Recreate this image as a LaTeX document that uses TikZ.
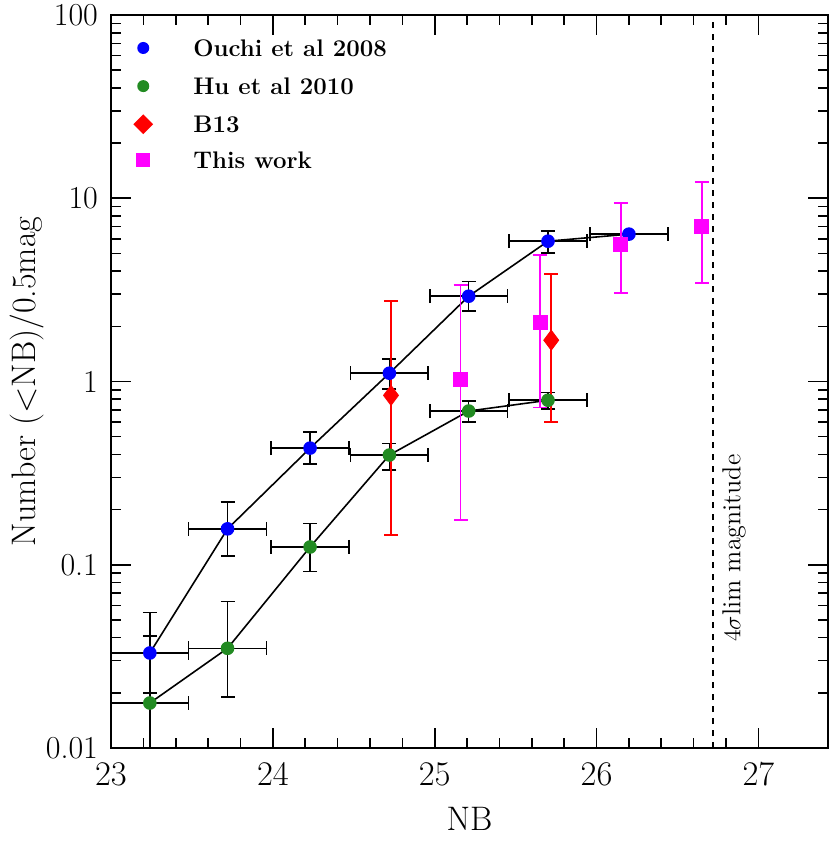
\documentclass[tikz,border=0pt]{standalone}
\usepackage{pgfplots}
\pgfplotsset{compat=1.18}
\usetikzlibrary{positioning,shapes.geometric}
\definecolor{hugreen}{RGB}{34,139,34}
\definecolor{workpink}{RGB}{255,0,255}
\definecolor{bred}{RGB}{255,0,0}
\definecolor{oblue}{RGB}{0,0,255}
\tikzset{
  ouchimark/.style={mark=*,mark size=3pt,mark options={oblue}},
  humark/.style={mark=*,mark size=3pt,mark options={hugreen}},
  bmark/.style={mark=diamond*,mark size=5pt,bred},
  workmark/.style={mark=square*,mark size=3.5pt,workpink},
  legtext/.style={anchor=west,font=\bfseries\fontsize{12}{14}\selectfont},
}
\begin{document}
\begin{tikzpicture}
\useasboundingbox (0,0) rectangle (415pt,420.5pt);
\begin{axis}[at={(55.5pt,46.5pt)}, anchor=south west, scale only axis,
  width=358.5pt, height=366.5pt, ymode=log,
  xmin=23, xmax=27.43, ymin=0.01, ymax=100,
  xtick={23,24,25,26,27}, minor x tick num=4,
  ytick={0.01,0.1,1,10,100}, yticklabels={0.01,0.1,1,10,100},
  tick align=inside, axis line style={line width=1pt},
  major tick length=10pt, minor tick length=5pt,
  every tick/.style={black,line width=0.8pt},
  ticklabel style={font=\fontsize{16}{18}\selectfont},
  xticklabel style={yshift=-4pt}, yticklabel style={xshift=-3pt},
  label style={font=\fontsize{17}{19}\selectfont},
  xlabel={NB}, ylabel={Number ($<$NB)/0.5mag},
  xlabel style={yshift=-4pt}, ylabel style={yshift=-6pt},
  error bars/error bar style={line width=0.8pt,black},
  error bars/error mark options={rotate=90,mark size=3.5pt,line width=0.8pt}]
% Ouchi et al 2008
\addplot[black,line width=0.8pt,ouchimark,
  error bars/.cd, x dir=both, x explicit, y dir=both, y explicit]
  coordinates {(23.24,0.033) += (0.24,0.022) -= (0.24,0.013)
    (23.72,0.157) += (0.24,0.063) -= (0.24,0.045)
    (24.23,0.433) += (0.24,0.097) -= (0.24,0.078)
    (24.72,1.11) += (0.24,0.22) -= (0.24,0.2)
    (25.21,2.92) += (0.24,0.6) -= (0.24,0.5)
    (25.70,5.83) += (0.24,0.8) -= (0.24,0.8)
    (26.20,6.37) += (0.24,0) -= (0.24,0)};
% Hu et al 2010
\addplot[black,line width=0.8pt,humark,
  error bars/.cd, x dir=both, x explicit, y dir=both, y explicit]
  coordinates {(23.24,0.0176) += (0.24,0.0234) -= (0.24,0.0126)
    (23.72,0.035) += (0.24,0.028) -= (0.24,0.016)
    (24.23,0.125) += (0.24,0.043) -= (0.24,0.033)
    (24.72,0.397) += (0.24,0.063) -= (0.24,0.067)
    (25.21,0.69) += (0.24,0.09) -= (0.24,0.09)
    (25.70,0.79) += (0.24,0.08) -= (0.24,0.08)};
% B13
\addplot[only marks,bmark,
  error bars/.cd, y dir=both, y explicit,
  error bar style={bred,line width=0.8pt}]
  coordinates {(24.73,0.84) += (0,1.91) -= (0,0.695)
    (25.72,1.68) += (0,2.17) -= (0,1.08)};
% This work
\addplot[only marks,workmark,
  error bars/.cd, y dir=both, y explicit,
  error bar style={workpink,line width=0.8pt}]
  coordinates {(25.16,1.03) += (0,2.32) -= (0,0.855)
    (25.65,2.1) += (0,2.8) -= (0,1.38)
    (26.15,5.6) += (0,3.8) -= (0,2.55)
    (26.65,7.0) += (0,5.3) -= (0,3.55)};
\draw[dashed,line width=0.8pt] (axis cs:26.72,0.01) -- (axis cs:26.72,100);
\node[rotate=90,font=\fontsize{13}{15}\selectfont] (limlabel) at (axis cs:26.85,0.123) {$4\sigma$lim magnitude};
% legend
\node[circle,fill=oblue,inner sep=0pt,minimum size=6pt] (leg1) at (rel axis cs:0.045,0.955) {};
\node[circle,fill=hugreen,inner sep=0pt,minimum size=6pt] (leg2) at (rel axis cs:0.045,0.903) {};
\node[diamond,fill=bred,inner sep=0pt,minimum size=10pt] (leg3) at (rel axis cs:0.045,0.851) {};
\node[rectangle,fill=workpink,inner sep=0pt,minimum size=7pt] (leg4) at (rel axis cs:0.045,0.802) {};
\node[legtext] at (rel axis cs:0.105,0.955) {Ouchi et al 2008};
\node[legtext] at (rel axis cs:0.105,0.903) {Hu et al 2010};
\node[legtext] at (rel axis cs:0.105,0.851) {B13};
\node[legtext] at (rel axis cs:0.105,0.802) {This work};
\end{axis}
\end{tikzpicture}
\end{document}
